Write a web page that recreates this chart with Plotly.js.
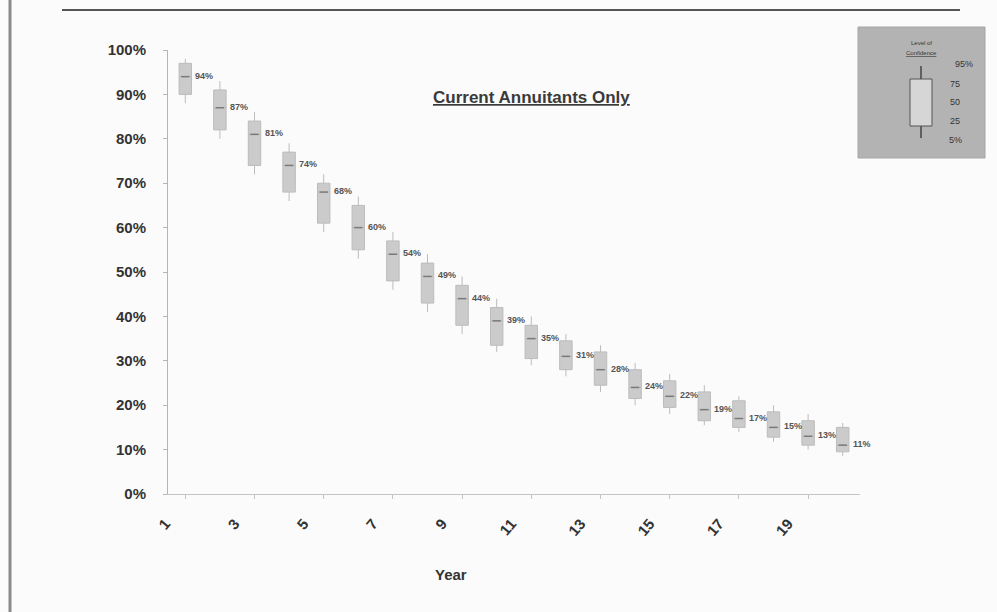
<!DOCTYPE html>
<html>
<head>
<meta charset="utf-8">
<script src="https://cdn.plot.ly/plotly-3.0.1.min.js"></script>
<style>html,body{margin:0;padding:0;background:#fbfbfb;}#chart{width:997px;height:612px;}</style>
</head>
<body>
<div id="chart"></div>
<script>
// ---- data ----
const years   = [1,2,3,4,5,6,7,8,9,10,11,12,13,14,15,16,17,18,19,20];
const medians = [94,87,81,74,68,60,54,49,44,39,35,31,28,24,22,19,17,15,13,11];
const q3vals  = [97,91,84,77,70,65,57,52,47,42,38,34.5,32,28,25.5,23,21,18.5,16.5,15];
const q1vals  = [90,82,74,68,61,55,48,43,38,33.5,30.5,28,24.5,21.5,19.5,16.5,15,12.8,11,9.5];
const p95vals = [98,93,86,79,72,67,59,54,49,44,40,36,33.5,29.5,27,24.5,22,20,18,16];
const p5vals  = [88,80,72,66,59,53,46,41,36,32,29,26.5,23,20,18,15.5,14,11.8,10,8.5];
const xTickVals = [1,3,5,7,9,11,13,15,17,19];
const xTickText = ['1','3','5','7','9','11','13','15','17','19'];
const subtitle = 'Current Annuitants Only';
const xTitle = 'Year';
const legendTitle = ['Level of', 'Confidence'];
const legendLabels = ['95%','75','50','25','5%'];

// ---- geometry helpers (plot area in pixels) ----
const L = 168, T = 50, W = 692, H = 444;
const px = x => (x - L) / W;
const py = y => (T + H - y) / H;

const pct = a => a.map(v => v / 100);

const boxTrace = {
  type: 'box',
  x: years,
  q1: pct(q1vals),
  median: pct(medians),
  q3: pct(q3vals),
  lowerfence: pct(p5vals),
  upperfence: pct(p95vals),
  width: 0.36,
  whiskerwidth: 0.0,
  fillcolor: '#cbcbcb',
  line: {color: '#bcbcbc', width: 1},
  hoverinfo: 'skip',
  showlegend: false
};

const medTrace = {
  type: 'scatter',
  mode: 'markers',
  x: years,
  y: pct(medians),
  marker: {symbol: 'line-ew', size: 6, line: {color: '#7a7a7a', width: 1.5}},
  hoverinfo: 'skip',
  showlegend: false
};

const annotations = years.map((yr, i) => ({
  x: yr, y: medians[i] / 100, xref: 'x', yref: 'y',
  text: '<b>' + medians[i] + '%</b>', showarrow: false,
  xanchor: 'left', yanchor: 'middle', xshift: 8, yshift: 1,
  font: {family: 'Liberation Sans, Arial, sans-serif', size: 9, color: '#555'}
}));

annotations.push({
  x: px(531), y: py(97), xref: 'paper', yref: 'paper',
  text: '<b><u>' + subtitle + '</u></b>', showarrow: false,
  xanchor: 'center', yanchor: 'middle',
  font: {family: 'Liberation Sans, Arial, sans-serif', size: 17, color: '#3a3a3a'}
});
annotations.push({
  x: px(451), y: py(574), xref: 'paper', yref: 'paper',
  text: '<b>' + xTitle + '</b>', showarrow: false,
  xanchor: 'center', yanchor: 'middle',
  font: {family: 'Liberation Sans, Arial, sans-serif', size: 15, color: '#333'}
});
// legend texts
annotations.push({
  x: px(921), y: py(43), xref: 'paper', yref: 'paper',
  text: legendTitle[0], showarrow: false, xanchor: 'center', yanchor: 'middle',
  font: {family: 'Liberation Sans, Arial, sans-serif', size: 6, color: '#333'}
});
annotations.push({
  x: px(921), y: py(53), xref: 'paper', yref: 'paper',
  text: '<u>' + legendTitle[1] + '</u>', showarrow: false, xanchor: 'center', yanchor: 'middle',
  font: {family: 'Liberation Sans, Arial, sans-serif', size: 6, color: '#333'}
});
const legLabPos = [[964,64],[955,84],[955,102],[955,121],[955,140]];
legendLabels.forEach((t, i) => annotations.push({
  x: px(legLabPos[i][0]), y: py(legLabPos[i][1]), xref: 'paper', yref: 'paper',
  text: t, showarrow: false, xanchor: 'center', yanchor: 'middle',
  font: {family: 'Liberation Sans, Arial, sans-serif', size: 9, color: '#333'}
}));

const shapes = [
  // left border
  {type: 'line', xref: 'paper', yref: 'paper', x0: px(10), x1: px(10), y0: py(0), y1: py(612),
   line: {color: '#8a8a8a', width: 3}},
  // top underline of title
  {type: 'line', xref: 'paper', yref: 'paper', x0: px(62), x1: px(960), y0: py(10), y1: py(10),
   line: {color: '#555', width: 2}},
  // legend panel
  {type: 'rect', xref: 'paper', yref: 'paper', x0: px(858), x1: px(985), y0: py(158), y1: py(27),
   fillcolor: '#b3b3b3', line: {color: '#a5a5a5', width: 1}, layer: 'above'},
  // legend whiskers
  {type: 'line', xref: 'paper', yref: 'paper', x0: px(921), x1: px(921), y0: py(66), y1: py(79),
   line: {color: '#444', width: 1.5}, layer: 'above'},
  {type: 'line', xref: 'paper', yref: 'paper', x0: px(921), x1: px(921), y0: py(126), y1: py(138),
   line: {color: '#444', width: 1.5}, layer: 'above'},
  // legend box
  {type: 'rect', xref: 'paper', yref: 'paper', x0: px(910), x1: px(932), y0: py(126), y1: py(79),
   fillcolor: '#d6d6d6', line: {color: '#555', width: 1}, layer: 'above'}
];

const font = {family: 'Liberation Sans, Arial, sans-serif', size: 15, color: '#333'};

const layout = {
  width: 997, height: 612,
  margin: {l: L, r: 997 - L - W, t: T, b: 612 - T - H},
  paper_bgcolor: '#fbfbfb',
  plot_bgcolor: '#fbfbfb',
  showlegend: false,
  font: font,
  xaxis: {
    range: [0.5, 20.5],
    tickmode: 'array', tickvals: xTickVals, ticktext: xTickText.map(t => '<b>' + t + '</b>'),
    tickangle: -50,
    showgrid: false, zeroline: false,
    showline: true, linecolor: '#c4c4c4', linewidth: 1,
    ticks: 'outside', ticklen: 4, tickcolor: '#c4c4c4',
    ticklabelshift: -20, ticklabelstandoff: 10,
    tickfont: {family: font.family, size: 15, color: '#333'}
  },
  yaxis: {
    range: [0, 1],
    dtick: 0.1, tickformat: '.0%',
    showgrid: false, zeroline: false,
    showline: true, linecolor: '#b5b5b5', linewidth: 1,
    ticks: 'outside', ticklen: 4, tickcolor: '#b5b5b5',
    ticklabelstandoff: 14,
    tickprefix: '<b>', ticksuffix: '</b>',
    tickfont: {family: font.family, size: 15, color: '#333'}
  },
  annotations: annotations,
  shapes: shapes
};

Plotly.newPlot('chart', [boxTrace, medTrace], layout, {staticPlot: true, displayModeBar: false});
</script>
</body>
</html>
